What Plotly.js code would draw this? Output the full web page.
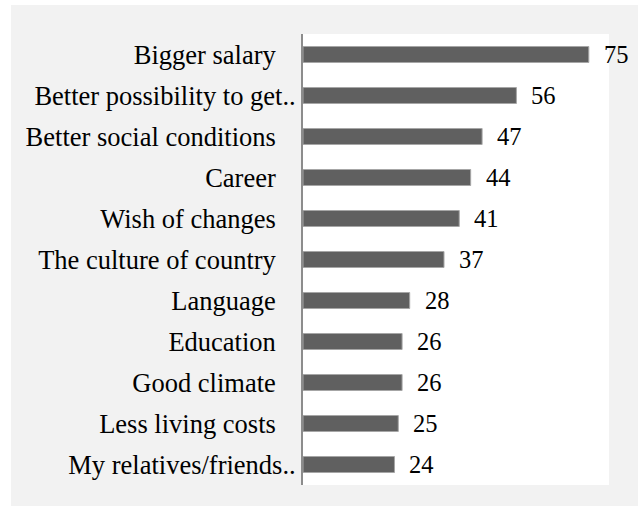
<!DOCTYPE html>
<html>
<head>
<meta charset="utf-8">
<script src="https://cdn.plot.ly/plotly-3.0.1.min.js"></script>
<style>
html,body{margin:0;padding:0;background:#ffffff;width:638px;height:506px;overflow:hidden;}
#chart{position:absolute;left:11px;top:5px;width:627px;height:501px;}
#warm{position:absolute;left:0;top:0;opacity:0;font-family:'Liberation Serif';white-space:nowrap;pointer-events:none;}
</style>
</head>
<body>
<div id="warm"><span style="font-size:24.5px">Bigger salary 0123456789</span><span style="font-size:26.5px">Bigger salary 0123456789</span><span style="font-size:24px">Bigger salary 0123456789</span></div>
<div id="chart"></div>
<script>
const categories = [
  "Bigger salary",
  "Better possibility to get..",
  "Better social conditions",
  "Career",
  "Wish of changes",
  "The culture of country",
  "Language",
  "Education",
  "Good climate",
  "Less living costs",
  "My relatives/friends.."
];
const values = [75, 56, 47, 44, 41, 37, 28, 26, 26, 25, 24];

const fontFam = 'Liberation Serif';

// normal labels sit a little left of the truncated ("..") ones
const tickText = categories.map(c => c.endsWith('..') ? c : c + '\u00a0\u00a0\u00a0');

const trace = {
  type: 'bar',
  orientation: 'h',
  y: categories,
  x: values,
  marker: {color: '#606060', line: {color: '#a6a6a6', width: 1}},
  width: 0.39,
  hoverinfo: 'none'
};

const annotations = categories.map((c, i) => ({
  x: values[i], y: c, xref: 'x', yref: 'y',
  text: String(values[i]), showarrow: false,
  xanchor: 'left', yanchor: 'middle', xshift: 13,
  font: {family: fontFam, size: 24.5, color: '#000000'}
}));

const layout = {
  width: 627, height: 501,
  margin: {l: 292, r: 29, t: 29, b: 21, pad: 0},
  paper_bgcolor: '#f2f2f2',
  plot_bgcolor: '#ffffff',
  showlegend: false,
  font: {family: fontFam, size: 26.5, color: '#000000'},
  xaxis: {range: [0, 80.3], visible: false, fixedrange: true},
  yaxis: {
    autorange: 'reversed', showline: true, linecolor: '#8c8c8c', linewidth: 2,
    ticks: '', showgrid: false, zeroline: false,
    tickmode: 'array', tickvals: categories, ticktext: tickText,
    tickfont: {family: fontFam, size: 26.5, color: '#000000'},
    ticklabelstandoff: 0, fixedrange: true
  },
  annotations: annotations
};

const cfg = {displayModeBar: false, staticPlot: true};
const warm = document.getElementById('warm');
void warm.offsetWidth;
Plotly.newPlot('chart', [trace], layout, cfg);

const loads = [
  document.fonts.load('24.5px "Liberation Serif"', '0123456789'),
  document.fonts.load('26.5px "Liberation Serif"', 'Bigger salary')
];
Promise.all(loads).then(() => document.fonts.ready).then(() => {
  Plotly.purge('chart');
  Plotly.newPlot('chart', [trace], layout, cfg);
  warm.remove();
}).catch(() => { warm.remove(); });
</script>
</body>
</html>
